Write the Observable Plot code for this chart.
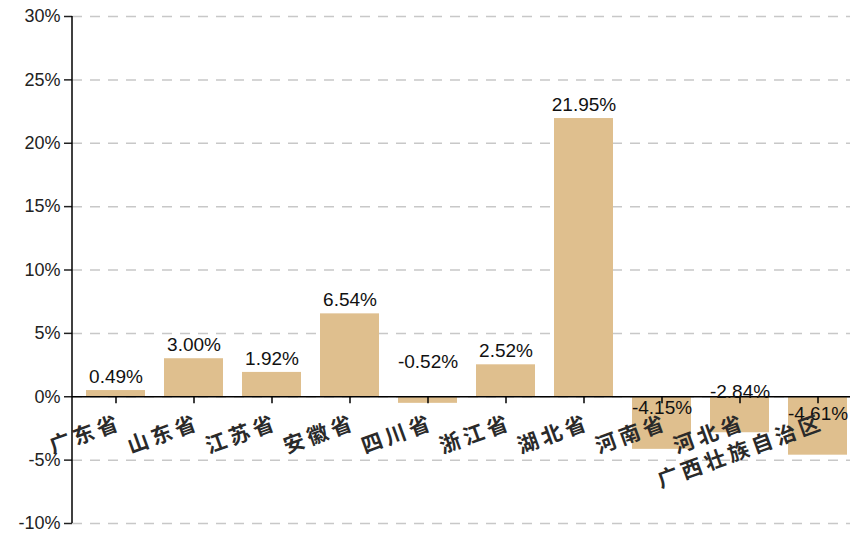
<!DOCTYPE html>
<html>
<head>
<meta charset="utf-8">
<script src="https://cdn.jsdelivr.net/npm/d3@7"></script>
<script src="https://cdn.jsdelivr.net/npm/@observablehq/plot@0.6"></script>
<style>
  html, body { margin: 0; padding: 0; background: #fff; }
  #chart svg { display: block; font-family: "Liberation Sans", Arial, sans-serif; }
</style>
</head>
<body>
<div id="chart"></div>
<script>
const provinces = ["广东省", "山东省", "江苏省", "安徽省", "四川省", "浙江省", "湖北省", "河南省", "河北省", "广西壮族自治区"];
const growth = [0.49, 3.00, 1.92, 6.54, -0.52, 2.52, 21.95, -4.15, -2.84, -4.61];
const yTicks = [-10, -5, 0, 5, 10, 15, 20, 25, 30];

const data = provinces.map((p, i) => ({province: p, value: growth[i]}));
const fmt = v => v.toFixed(2) + "%";

const chart = Plot.plot({
  width: 850,
  height: 538,
  marginLeft: 72,
  marginRight: 0,
  marginTop: 16,
  marginBottom: 15,
  style: {background: "#fff", overflow: "visible"},
  x: {domain: provinces, paddingInner: 0.25, paddingOuter: 0.09, align: 0.8, axis: null},
  y: {domain: [-10, 30], axis: null},
  marks: [
    Plot.gridY(yTicks, {stroke: "#c8c8c8", strokeOpacity: 1, strokeWidth: 1.5, strokeDasharray: "10,8"}),
    Plot.barY(data, {x: "province", y: "value", fill: "#dfbf8e"}),
    Plot.ruleY([0], {stroke: "#000", strokeWidth: 1.5}),
    Plot.axisY(yTicks, {tickFormat: d => d + "%", tickSize: 8, tickPadding: 4, fontSize: 18, color: "#222", strokeWidth: 1.5, label: null}),
    Plot.ruleX(provinces, {x: d => d, y1: 0, y2: 0, insetBottom: -7, stroke: "#000", strokeWidth: 1.5}),
    Plot.text(data.filter(d => d.value >= 0), {x: "province", y: "value", text: d => fmt(d.value), dy: -14, fontSize: 19, fill: "#111"}),
    Plot.text(data.filter(d => d.value < 0), {x: "province", y: "value", text: d => fmt(d.value), dy: -41, fontSize: 19, fill: "#111"}),
    Plot.text(provinces, {x: d => d, y: 0, text: d => d, rotate: -20, textAnchor: "end", dx: 5, dy: 25, fontSize: 21, fontWeight: "bold", fill: "#2a2a2a", fontFamily: "Noto Sans CJK SC"})
  ]
});

// letter spacing for the rotated category labels
d3.select(chart).selectAll("text").filter(function() { return /省|区/.test(this.textContent); })
  .attr("letter-spacing", "4px");

// vertical axis line at the left edge of the frame, from the y scale's range
const yr = chart.scale("y").range;
d3.select(chart).append("line")
  .attr("x1", 72).attr("x2", 72)
  .attr("y1", yr[0]).attr("y2", yr[1])
  .attr("stroke", "#000").attr("stroke-width", 1.5);

document.getElementById("chart").appendChild(chart);
</script>
</body>
</html>
